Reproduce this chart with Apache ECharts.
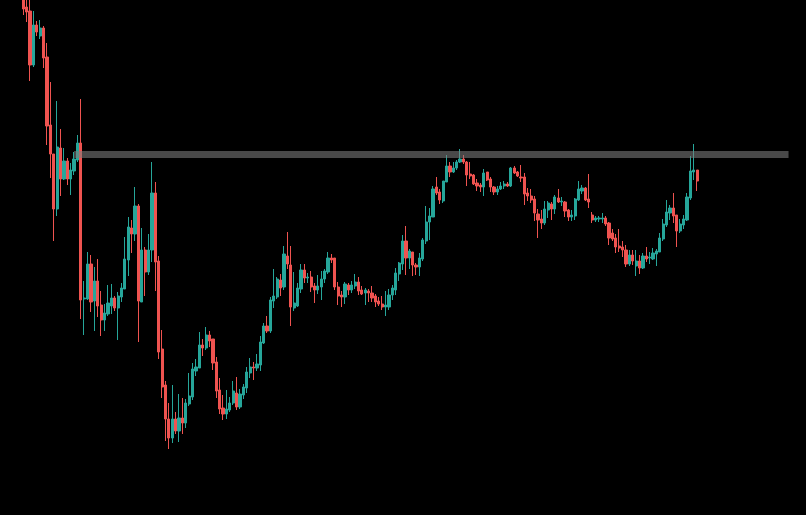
<!DOCTYPE html>
<html>
<head>
<meta charset="utf-8">
<script src="https://cdn.jsdelivr.net/npm/echarts@6/dist/echarts.min.js"></script>
<style>
html,body{margin:0;padding:0;background:#000;}
#chart{width:806px;height:515px;}
</style>
</head>
<body>
<div id="chart"></div>
<script>
// OHLC values (price units)
const openVals = [523,508,504,450,490,479,487,458,390,361,306,367,336,354,336,344,355,372,216,216,
251,214,234,210,195,201,209,217,207,218,226,255,287,281,309,213,265,243,265,322,
254,166,130,96,77,96,84,97,92,111,118,144,147,170,167,180,176,153,125,107,
101,105,112,122,108,120,127,142,148,147,150,172,189,184,214,218,235,228,259,250,
207,209,226,245,237,238,229,225,228,236,243,257,257,228,220,218,230,225,229,233,
225,222,224,222,219,214,211,208,208,220,225,241,251,274,257,263,250,248,256,274,
293,298,328,323,314,333,349,343,347,353,356,353,341,340,332,330,328,343,336,328,
323,326,329,331,329,347,343,338,338,322,319,316,301,296,292,305,311,306,317,313,
313,305,298,299,315,324,327,316,300,295,296,296,297,292,282,277,269,268,265,251,
260,249,254,247,259,257,256,261,263,276,290,302,307,300,284,290,295,317,343,345];
const closeVals = [506,503,450,490,483,487,457,389,361,306,368,336,354,336,345,356,372,215,217,251,
213,234,209,195,202,212,217,207,219,227,256,288,281,309,214,265,243,265,322,253,
163,128,96,77,96,84,97,92,112,119,146,148,170,167,180,174,152,124,106,101,
106,112,124,108,121,128,143,148,147,151,173,189,184,215,219,236,227,261,251,208,
212,227,245,237,238,228,225,229,236,244,257,255,228,219,218,231,225,230,233,224,
221,225,222,217,213,211,208,210,220,227,242,252,274,257,264,250,248,257,275,293,
299,326,322,315,334,349,343,347,353,356,353,340,339,331,329,328,342,335,328,323,
326,329,331,329,347,342,339,337,321,319,315,302,295,292,306,312,306,318,313,314,
304,298,300,316,326,327,315,313,295,297,297,297,291,277,276,268,267,265,251,260,
254,254,247,259,256,258,262,264,277,291,303,307,299,284,291,296,318,344,345,334];
const lowVals = [500,493,434,448,479,476,447,370,337,274,299,319,335,330,320,340,353,196,180,215,
203,184,198,179,184,199,201,204,175,213,226,239,262,274,173,213,219,240,253,224,
156,117,74,66,72,81,73,81,87,109,115,139,147,159,165,168,145,117,101,95,
96,103,110,105,106,116,122,137,135,144,144,171,182,182,207,216,219,225,246,189,
204,208,222,232,232,223,212,221,215,232,241,252,225,210,208,211,220,222,226,220,
220,210,213,213,208,209,205,199,205,215,220,234,245,240,246,239,240,239,254,271,
275,298,320,311,312,333,338,342,345,352,351,329,336,330,324,323,319,334,323,320,
320,325,326,328,328,341,338,333,310,314,312,294,277,286,290,297,295,301,312,309,
298,294,294,295,314,321,314,307,292,293,293,292,289,270,274,262,263,258,248,249,
250,239,241,246,253,251,255,249,263,274,288,295,292,268,282,286,294,315,335,324];
const highVals = [530,518,517,504,494,495,489,472,433,361,414,386,367,357,352,363,380,416,234,263,
260,248,256,224,211,230,231,219,223,232,278,298,295,328,311,287,268,281,353,333,
259,185,134,112,130,103,121,117,116,142,152,156,183,176,188,184,176,158,137,120,
125,118,134,138,126,131,148,157,153,161,179,192,199,218,246,238,241,269,283,269,
243,232,251,251,242,244,232,240,244,246,263,261,257,233,224,233,232,234,241,238,
229,227,226,229,221,218,219,224,226,230,247,253,280,289,266,263,252,262,277,309,
307,329,338,326,334,360,353,353,355,366,360,354,353,341,336,332,346,343,338,329,
329,333,334,333,348,349,344,350,342,327,326,319,306,305,314,314,313,320,326,318,
314,306,305,317,334,330,328,341,303,299,299,302,299,293,286,281,286,274,270,265,
265,265,260,262,268,263,267,266,282,296,315,310,322,300,296,300,322,359,371,345];
const resistanceLevel = 360.5;
const resistanceStart = 15;
const emptySlots = 27;

const candleCount = openVals.length;
const categories = [];
for (let i = 0; i < candleCount + emptySlots; i++) categories.push('D' + (i + 1));
const ohlc = openVals.map((o, i) => [o, closeVals[i], lowVals[i], highVals[i]]);

const chart = echarts.init(document.getElementById('chart'));
chart.setOption({
  backgroundColor: '#000000',
  animation: false,
  grid: { left: 21.6, top: 0, width: categories.length * 3.386, height: 515 },
  xAxis: {
    type: 'category', data: categories, boundaryGap: true, show: false
  },
  yAxis: {
    type: 'value', min: 0, max: 515, show: false, splitLine: { show: false }
  },
  series: [{
    type: 'candlestick',
    data: ohlc,
    barWidth: 2.7,
    clip: true,
    itemStyle: {
      color: '#26a69a', color0: '#ef5350',
      borderColor: '#26a69a', borderColor0: '#ef5350', borderWidth: 1
    },
    markLine: {
      silent: true,
      symbol: ['none', 'none'],
      label: { show: false },
      lineStyle: { color: 'rgba(125,125,125,0.58)', width: 7, type: 'solid', cap: 'butt' },
      data: [[
        { coord: [resistanceStart, resistanceLevel] },
        { coord: [categories.length - 1, resistanceLevel] }
      ]]
    }
  }]
});
</script>
</body>
</html>
